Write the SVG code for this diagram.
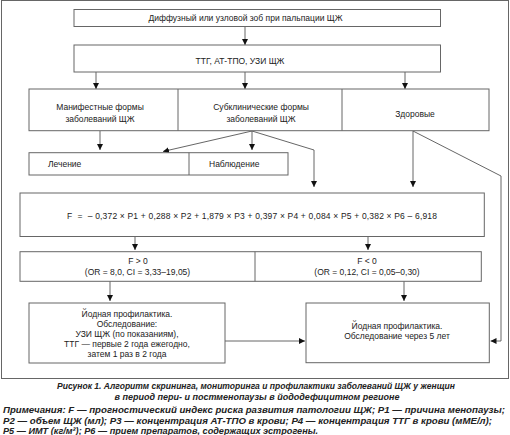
<svg xmlns="http://www.w3.org/2000/svg" width="510" height="435" viewBox="0 0 510 435">
<defs>
<style>
.box{fill:#fff;stroke:#666;stroke-width:1}
.div{stroke:#666;stroke-width:1;fill:none}
.ln{stroke:#555;stroke-width:0.9;fill:none}
.ar{stroke:#555;stroke-width:0.9;fill:none;marker-end:url(#ah)}
.t{font-family:"Liberation Sans",Arial,sans-serif;font-size:8.5px;fill:#222}
.m{text-anchor:middle}
.cap{font-family:"Liberation Sans",Arial,sans-serif;font-size:9px;font-weight:bold;font-style:italic;fill:#222}
</style>
<marker id="ah" viewBox="0 0 6 6" refX="6" refY="3" markerWidth="6" markerHeight="6" markerUnits="userSpaceOnUse" orient="auto">
<path d="M0,0 L6,3 L0,6 z" fill="#111"/>
</marker>
</defs>
<rect width="510" height="435" fill="#fff"/>
<rect id="frame" x="1.5" y="0.5" width="507" height="378" fill="none" stroke="#666" stroke-width="1"/>

<g id="connectors">
<line class="ar" x1="245" y1="26" x2="245" y2="45"/>
<line class="ar" x1="96" y1="72" x2="96" y2="89"/>
<line class="ar" x1="245" y1="72" x2="245" y2="89"/>
<line class="ar" x1="405" y1="72" x2="405" y2="89"/>
<line class="ar" x1="100" y1="131" x2="100" y2="150"/>
<line class="ar" x1="252" y1="131" x2="163" y2="151.5"/>
<line class="ar" x1="252" y1="131" x2="252" y2="150"/>
<polyline class="ar" points="252,131 314,150 314,187"/>
<line class="ar" x1="413" y1="131" x2="413" y2="187"/>
<polyline class="ar" points="413,131 501,176 501,341 490.5,341"/>
<line class="ar" x1="135" y1="237" x2="135" y2="250"/>
<line class="ar" x1="368" y1="237" x2="368" y2="250"/>
<line class="ar" x1="110" y1="281" x2="110" y2="301"/>
<line class="ar" x1="404" y1="281" x2="404" y2="301"/>
<line class="ar" x1="225" y1="341" x2="305" y2="341"/>
</g>

<g id="n1">
<rect class="box" x="74" y="9.5" width="366.5" height="17"/>
<text class="t m" x="245.5" y="21">Диффузный или узловой зоб при пальпации ЩЖ</text>
</g>
<g id="n2">
<rect class="box" x="74" y="45" width="366.5" height="27"/>
<text class="t m" x="240" y="64">ТТГ, АТ-ТПО, УЗИ ЩЖ</text>
</g>
<g id="n3">
<rect class="box" x="29" y="89" width="460" height="41.7"/>
<line class="div" x1="178" y1="89" x2="178" y2="130.7"/>
<line class="div" x1="342" y1="89" x2="342" y2="130.7"/>
<text class="t m" x="100" y="109.5">Манифестные формы</text>
<text class="t m" x="100" y="121.5">заболеваний ЩЖ</text>
<text class="t m" x="261" y="109.5">Субклинические формы</text>
<text class="t m" x="261" y="121.5">заболеваний ЩЖ</text>
<text class="t m" x="415" y="116.5">Здоровые</text>
</g>
<g id="n4">
<rect class="box" x="29" y="152.7" width="259" height="22.3"/>
<line class="div" x1="189" y1="152.7" x2="189" y2="175"/>
<text class="t" x="48" y="167">Лечение</text>
<text class="t" x="209" y="167">Наблюдение</text>
</g>
<g id="n5">
<rect class="box" x="20" y="193" width="464.3" height="43.5"/>
<text class="t" x="67" y="219" xml:space="preserve" textLength="370" lengthAdjust="spacing">F  =  – 0,372 × P1 + 0,288 × P2 + 1,879 × P3 + 0,397 × P4 + 0,084 × P5 + 0,382 × P6 – 6,918</text>
</g>
<g id="n6">
<rect class="box" x="20" y="251.7" width="461.3" height="29.6"/>
<line class="div" x1="255" y1="251.7" x2="255" y2="281.3"/>
<text class="t m" x="138" y="264">F &gt; 0</text>
<text class="t m" x="137.5" y="275">(OR = 8,0, CI = 3,33–19,05)</text>
<text class="t m" x="367" y="264">F &lt; 0</text>
<text class="t m" x="367" y="275">(OR = 0,12, CI = 0,05–0,30)</text>
</g>
<g id="n7">
<rect class="box" x="29" y="303" width="196" height="60"/>
<text class="t m" x="127" y="317.3">Йодная профилактика.</text>
<text class="t m" x="127" y="327.3">Обследование:</text>
<text class="t m" x="127" y="337.3">УЗИ ЩЖ (по показаниям),</text>
<text class="t m" x="127" y="347.3">ТТГ — первые 2 года ежегодно,</text>
<text class="t m" x="127" y="357">затем 1 раз в 2 года</text>
</g>
<g id="n8">
<rect class="box" x="306" y="303" width="183.3" height="59.7"/>
<text class="t m" x="397" y="328.7">Йодная профилактика.</text>
<text class="t m" x="397" y="338.7">Обследование через 5 лет</text>
</g>

<g id="caption">
<text class="cap m" x="256" y="389" textLength="398" lengthAdjust="spacingAndGlyphs">Рисунок 1. Алгоритм скрининга, мониторинга и профилактики заболеваний ЩЖ у женщин</text>
<text class="cap m" x="257" y="400">в период пери- и постменопаузы в йододефицитном регионе</text>
<text class="cap" x="3" y="413" textLength="502" lengthAdjust="spacingAndGlyphs">Примечания: F — прогностический индекс риска развития патологии ЩЖ; Р1 — причина менопаузы;</text>
<text class="cap" x="3" y="424" textLength="489" lengthAdjust="spacingAndGlyphs">Р2 — объем ЩЖ (мл); Р3 — концентрация АТ-ТПО в крови; Р4 — концентрация ТТГ в крови (мМЕ/л);</text>
<text class="cap" x="3" y="434" textLength="315" lengthAdjust="spacingAndGlyphs">Р5 — ИМТ (кг/м²); Р6 — прием препаратов, содержащих эстрогены.</text>
</g>
</svg>
